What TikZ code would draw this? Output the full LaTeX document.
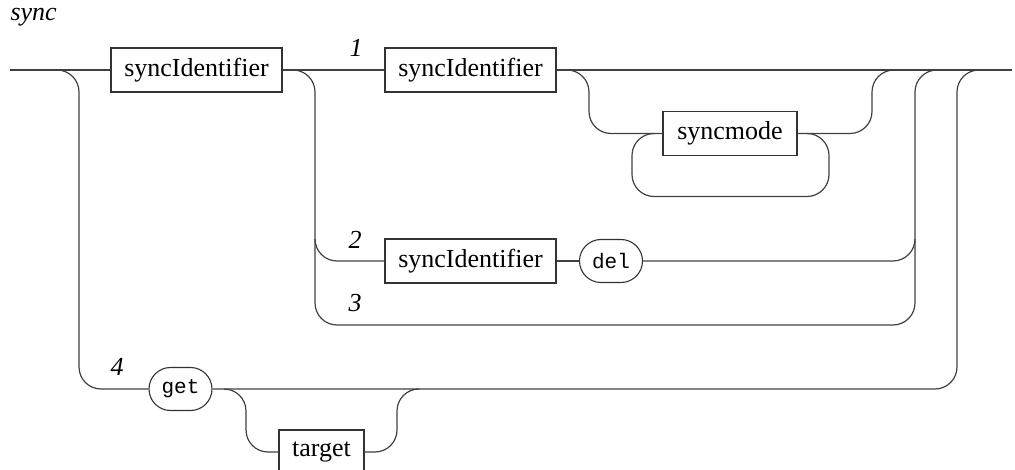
\documentclass[tikz,border=0pt]{standalone}
\usepackage{fontspec}
\setmainfont{Liberation Serif}
\setmonofont{Liberation Mono}
\usetikzlibrary{shapes.misc}
\tikzset{
 rail/.style={line width=1.2pt,black!75,rounded corners=22pt},
 nonterm/.style={draw=black!80,line width=1.1pt,minimum width=#1,minimum height=44pt,
   inner sep=0pt,font=\fontsize{26}{31}\selectfont},
 term/.style={draw=black!80,rounded rectangle,line width=1.1pt,minimum width=63pt,
   minimum height=43pt,inner sep=0pt,font=\ttfamily\fontsize{21}{25}\selectfont},
 altnum/.style={font=\itshape\fontsize{26}{31}\selectfont}
}
\begin{document}
\begin{tikzpicture}[x=1pt,y=-1pt]
 \useasboundingbox (0,0) rectangle (1015,470);
 \node[altnum,anchor=west] (title) at (7,17) {sync};
 % boxes
 \node[nonterm=171pt] (id1) at (196.5,70) {syncIdentifier};
 \node[nonterm=171pt] (id2) at (470.5,70) {syncIdentifier};
 \node[nonterm=134pt] (mode) at (730,133.5) {syncmode};
 \node[nonterm=171pt] (id3) at (470.5,261) {syncIdentifier};
 \node[term] (del) at (611,261) {del};
 \node[term] (get) at (180.5,389) {get};
 \node[nonterm=85pt] (tgt) at (321.5,452) {target};
 % alternative numbers
 \node[altnum] (n1) at (356,48) {1};
 \node[altnum] (n2) at (355,240) {2};
 \node[altnum] (n3) at (355,303) {3};
 \node[altnum] (n4) at (117,367) {4};
 % junctions
 \coordinate (in) at (10,70);
 \coordinate (out) at (1012,70);
 \coordinate (j1) at (57,70);
 \coordinate (j2) at (293,70);
 \coordinate (j3) at (567,70);
 \coordinate (j4) at (893,70);
 \coordinate (j5) at (936,70);
 \coordinate (j6) at (978,70);
 \coordinate (j7) at (225,389);
 \coordinate (j8) at (418,389);
 \coordinate (v2) at (315,239);
 \coordinate (w2) at (915,239);
 \coordinate (lp1) at (653,133.5);
 \coordinate (lp2) at (807,133.5);
 % main track
 \draw[rail] (in) -- (id1) -- (id2) -- (out);
 % 1: optional syncmode, repeated
 \draw[rail] (j3) -- ++(22,0) |- (mode);
 \draw[rail] (mode) -| ([xshift=-21pt]j4) -- (j4);
 \draw[rail] (lp1) -- ++(-21,0) -- ++(0,63) -| ([xshift=22pt]lp2) -- (lp2);
 % 2 and 3
 \draw[rail] (j2) -- ++(22,0) -- ++(0,255) -- ++(600,0) |- (j5);
 \draw[rail] (v2) |- (id3);
 \draw[rail] (id3) -- (del);
 \draw[rail] (del) -| (w2);
 % 4
 \draw[rail] (j1) -- ++(22,0) |- (get);
 \draw[rail] (get) -| ([xshift=-21pt]j6) -- (j6);
 \draw[rail] (j7) -- ++(21,0) |- (tgt);
 \draw[rail] (tgt) -| ([xshift=-21pt]j8) -- (j8);
\end{tikzpicture}
\end{document}
